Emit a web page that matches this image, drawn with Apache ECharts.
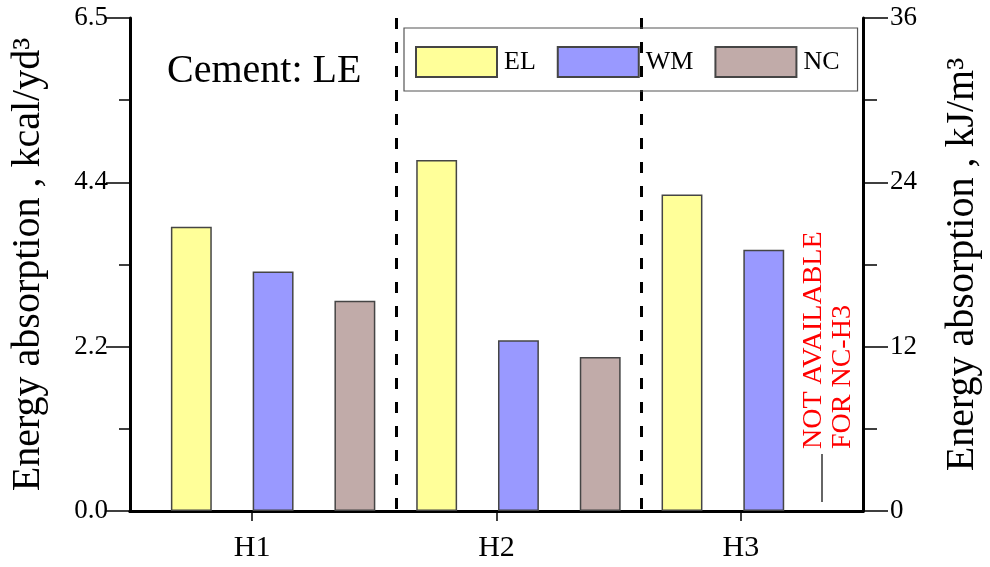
<!DOCTYPE html>
<html>
<head>
<meta charset="utf-8">
<script src="https://cdn.jsdelivr.net/npm/echarts@6/dist/echarts.min.js"></script>
<style>
html,body{margin:0;padding:0;background:#fff;}
#chart{width:990px;height:567px;}
</style>
</head>
<body>
<div id="chart"></div>
<script>
// ---- data (energy absorption, kJ/m^3) ----
const categories = ['H1', 'H2', 'H3'];
const seriesNames = ['EL', 'WM', 'NC'];
const elValues = [20.76, 25.63, 23.11];
const wmValues = [17.48, 12.47, 19.08];
const ncValues = [15.36, 11.25, null];
const leftTickLabels = ['0.0', '2.2', '4.4', '6.5'];
const rightTickLabels = ['0', '12', '24', '36'];
const titleText = 'Cement: LE';
const leftAxisName = 'Energy absorption , kcal/yd\u00B3';
const rightAxisName = 'Energy absorption , kJ/m\u00B3';
const noteLines = ['NOT AVAILABLE', 'FOR NC-H3'];

const FONT = '"Liberation Serif", "Times New Roman", serif';
const colors = ['#FFFF99', '#9999FF', '#C1ABA9'];
const seriesData = [elValues, wmValues, ncValues];

const plotLeft = 130, plotRight = 866, plotTop = 18, plotBottom = 511;
const plotW = plotRight - plotLeft;
const slot = plotW / 18;

const chart = echarts.init(document.getElementById('chart'), null, {renderer: 'canvas'});

const yCommon = {
  type: 'value', min: 0, max: 36, interval: 12,
  splitLine: {show: false},
  axisLine: {show: true, lineStyle: {color: '#000', width: 3}},
  minorTick: {show: true, splitNumber: 2, lineStyle: {color: '#000', width: 1.5}},
  axisTick: {show: true, inside: false, lineStyle: {color: '#000', width: 1.5}},
  nameLocation: 'middle', nameRotate: 90,
  nameTextStyle: {fontFamily: FONT, fontSize: 40, color: '#000'}
};

const option = {
  backgroundColor: '#fff',
  animation: false,
  title: {
    text: titleText, left: 162, top: 46,
    textStyle: {fontFamily: FONT, fontSize: 40, fontWeight: 'normal', color: '#000'}
  },
  legend: {
    data: seriesNames, left: 404, top: 28,
    icon: 'rect', itemWidth: 81, itemHeight: 30, itemGap: 21,
    padding: [18, 18, 13, 11],
    borderColor: '#555', borderWidth: 1.2,
    selectedMode: false,
    textStyle: {fontFamily: FONT, fontSize: 26, color: '#000', padding: [0, 0, 0, 2]}
  },
  grid: [
    {left: plotLeft, top: plotTop, width: plotW, height: plotBottom - plotTop, containLabel: false},
    {left: plotLeft + slot / 2, top: plotTop, width: plotW, height: plotBottom - plotTop, containLabel: false}
  ],
  xAxis: [
    {
      type: 'category', gridIndex: 0, data: categories, position: 'bottom',
      axisLine: {show: true, lineStyle: {color: '#000', width: 3}},
      axisTick: {show: true, alignWithLabel: true, length: 10, lineStyle: {color: '#000', width: 1.5}},
      axisLabel: {fontFamily: FONT, fontSize: 30, color: '#000', margin: 22},
      splitLine: {show: false}
    },
    {
      type: 'category', gridIndex: 0, data: categories, position: 'top',
      axisLine: {show: true, lineStyle: {color: '#000', width: 3}},
      axisTick: {show: false}, axisLabel: {show: false}, splitLine: {show: false}
    },
    {
      type: 'category', gridIndex: 1, data: categories,
      axisLine: {show: false}, axisTick: {show: false}, axisLabel: {show: false},
      splitLine: {show: true, showMinLine: false, showMaxLine: false,
        lineStyle: {color: '#000', width: 3, type: [11, 13]}}
    }
  ],
  yAxis: [
    Object.assign({}, yCommon, {
      gridIndex: 0, position: 'left',
      name: leftAxisName, nameGap: 82,
      axisTick: Object.assign({}, yCommon.axisTick, {length: 24}),
      minorTick: Object.assign({}, yCommon.minorTick, {length: 11}),
      axisLabel: {fontFamily: FONT, fontSize: 27, color: '#000', margin: 22,
        formatter: v => leftTickLabels[Math.round(v / 12)]}
    }),
    Object.assign({}, yCommon, {
      gridIndex: 0, position: 'right',
      name: rightAxisName, nameGap: 79,
      axisTick: Object.assign({}, yCommon.axisTick, {length: 25}),
      minorTick: Object.assign({}, yCommon.minorTick, {length: 14}),
      axisLabel: {fontFamily: FONT, fontSize: 27, color: '#000', margin: 27,
        formatter: v => rightTickLabels[Math.round(v / 12)]}
    }),
    {
      type: 'value', gridIndex: 1, min: 0, max: 36, show: false
    }
  ],
  series: seriesNames.map((name, i) => ({
    name: name, type: 'bar', xAxisIndex: 2, yAxisIndex: 2,
    data: seriesData[i],
    barWidth: '16.6667%', barGap: '100%',
    itemStyle: {color: colors[i], borderColor: '#454545', borderWidth: 1.5}
  })),
  graphic: [
    {
      type: 'text', x: 814, y: 449, rotation: Math.PI / 2,
      style: {text: noteLines[0], fill: '#FF0000', font: '28px ' + FONT,
        textAlign: 'left', textVerticalAlign: 'middle'}
    },
    {
      type: 'text', x: 843, y: 449, rotation: Math.PI / 2,
      style: {text: noteLines[1], fill: '#FF0000', font: '28px ' + FONT,
        textAlign: 'left', textVerticalAlign: 'middle'}
    },
    {
      type: 'line', shape: {x1: 822, y1: 454, x2: 822, y2: 502},
      style: {stroke: '#333', lineWidth: 1.5}
    }
  ]
};
chart.setOption(option);
</script>
</body>
</html>
